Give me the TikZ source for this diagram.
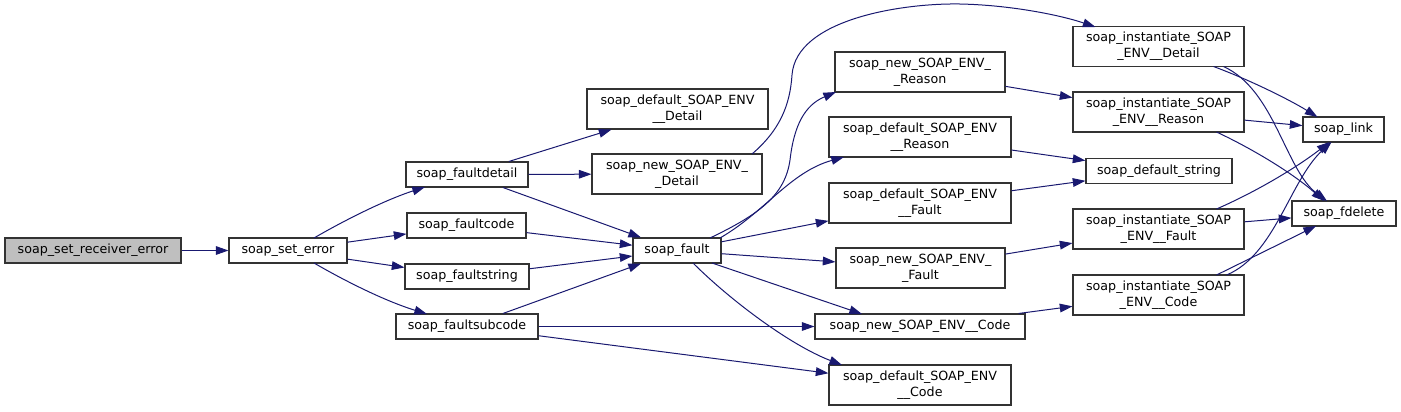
\documentclass[tikz,border=0pt]{standalone}
\usepackage{fontspec}
\setmainfont{DejaVu Sans}
\usetikzlibrary{arrows.meta,calc}
\definecolor{edgeblue}{HTML}{191970}
\definecolor{rootgray}{HTML}{BFBFBF}
\tikzset{
  box/.style={draw=black!80, line width=0.8pt, fill=white, inner sep=0pt, align=center,
    font=\fontsize{9.5}{11.8}\selectfont},
  sz/.style 2 args={minimum width=#1*0.75pt, minimum height=#2*0.75pt},
  root/.style={fill=rootgray},
  edge/.style={draw=edgeblue, line width=0.75pt, -{Triangle[length=9.5pt,width=6.5pt]}}
}
\begin{document}
\begin{tikzpicture}[x=0.75pt, y=-0.75pt]
\useasboundingbox (0,0) rectangle (1401,411);
% nodes
\node[box,root,sz={176}{25}] (recv) at (93,250.5) {soap\_set\_receiver\_error};
\node[box,sz={118}{25}] (seterr) at (288,250.5) {soap\_set\_error};
\node[box,sz={122}{25}] (fdetail) at (467,174.5) {soap\_faultdetail};
\node[box,sz={119}{25}] (fcode) at (466.5,225.5) {soap\_faultcode};
\node[box,sz={124}{25}] (fstring) at (467,276.5) {soap\_faultstring};
\node[box,sz={142}{25}] (fsub) at (467,326.5) {soap\_faultsubcode};
\node[box,sz={88}{25}] (fault) at (677,250.5) {soap\_fault};
\node[box,sz={181}{40}] (defDetail) at (677.5,109) {soap\_default\_SOAP\_ENV\\\_\_Detail};
\node[box,sz={170}{40}] (newDetail) at (677,174) {soap\_new\_SOAP\_ENV\_\\\_Detail};
\node[box,sz={170}{40}] (newReason) at (920,72) {soap\_new\_SOAP\_ENV\_\\\_Reason};
\node[box,sz={182}{40}] (defReason) at (920,137) {soap\_default\_SOAP\_ENV\\\_\_Reason};
\node[box,sz={182}{40}] (defFault) at (920,203) {soap\_default\_SOAP\_ENV\\\_\_Fault};
\node[box,sz={169}{40}] (newFault) at (920.5,268) {soap\_new\_SOAP\_ENV\_\\\_Fault};
\node[box,sz={210}{25}] (newCode) at (920,326.5) {soap\_new\_SOAP\_ENV\_\_Code};
\node[box,sz={182}{40}] (defCode) at (920,385) {soap\_default\_SOAP\_ENV\\\_\_Code};
\node[box,sz={171}{40}] (instDetail) at (1158.5,46.5) {soap\_instantiate\_SOAP\\\_ENV\_\_Detail};
\node[box,sz={171}{40}] (instReason) at (1158.5,112) {soap\_instantiate\_SOAP\\\_ENV\_\_Reason};
\node[box,sz={146}{25}] (defString) at (1159,171) {soap\_default\_string};
\node[box,sz={171}{40}] (instFault) at (1158.5,229) {soap\_instantiate\_SOAP\\\_ENV\_\_Fault};
\node[box,sz={171}{40}] (instCode) at (1158.5,295) {soap\_instantiate\_SOAP\\\_ENV\_\_Code};
\node[box,sz={81}{25}] (link) at (1343.5,129.5) {soap\_link};
\node[box,sz={104}{25}] (fdelete) at (1344,213.5) {soap\_fdelete};
% edges
\draw[edge] (recv) -- (seterr);
\draw[edge] ($(seterr)+(26,-12.5)$) .. controls (345,220) and (385,200) .. ($(fdetail)+(-42,12.5)$);
\draw[edge] (seterr) -- (fcode);
\draw[edge] (seterr) -- (fstring);
\draw[edge] ($(seterr)+(26,12.5)$) .. controls (345,281) and (385,301) .. ($(fsub)+(-40,-12.5)$);
\draw[edge] (fdetail) -- (defDetail);
\draw[edge] (fdetail) -- (newDetail);
\draw[edge] (fdetail) -- (fault);
\draw[edge] (fcode) -- (fault);
\draw[edge] (fstring) -- (fault);
\draw[edge] (fsub) -- (fault);
\draw[edge] (fsub) -- (newCode);
\draw[edge] (fsub) -- (defCode);
\draw[edge] ($(newDetail)+(75,-20)$) .. controls (780,130) and (790,105) .. (792,75)
  .. controls (796,20) and (900,3) .. (960,4)
  .. controls (1010,5) and (1060,15) .. ($(instDetail)+(-63,-19.5)$);
\draw[edge] ($(fault)+(33,-12.5)$) .. controls (760,214) and (785,195) .. (790,160)
  .. controls (794,125) and (805,105) .. ($(newReason)+(-84,20)$);
\draw[edge] ($(fault)+(43,-12.5)$) .. controls (765,212) and (790,172) .. ($(defReason)+(-76,20)$);
\draw[edge] (fault) -- (defFault);
\draw[edge] (fault) -- (newFault);
\draw[edge] ($(fault)+(35,12.5)$) -- ($(newCode)+(-58,-12.5)$);
\draw[edge] ($(fault)+(16,12.5)$) .. controls (730,300) and (790,345) .. ($(defCode)+(-78,-20)$);
\draw[edge] (newReason) -- (instReason);
\draw[edge] (defReason) -- (defString);
\draw[edge] (defFault) -- (defString);
\draw[edge] (newFault) -- (instFault);
\draw[edge] (newCode) -- (instCode);
\draw[edge] ($(instDetail)+(55,20)$) .. controls (1250,80) and (1290,100) .. ($(link)+(-26,-12.5)$);
\draw[edge] ($(instDetail)+(65,20)$) .. controls (1275,90) and (1285,170) .. ($(fdelete)+(-17,-12.5)$);
\draw[edge] (instReason) -- (link);
\draw[edge] ($(instReason)+(58,20)$) .. controls (1255,150) and (1295,175) .. ($(fdelete)+(-20,-12.5)$);
\draw[edge] ($(instFault)+(58,-20)$) .. controls (1260,190) and (1300,165) .. ($(link)+(-14,12.5)$);
\draw[edge] (instFault) -- (fdelete);
\draw[edge] ($(instCode)+(68,-20)$) .. controls (1275,255) and (1290,180) .. ($(link)+(-12,12.5)$);
\draw[edge] ($(instCode)+(58,-20)$) -- ($(fdelete)+(-28,12.5)$);
\end{tikzpicture}
\end{document}
